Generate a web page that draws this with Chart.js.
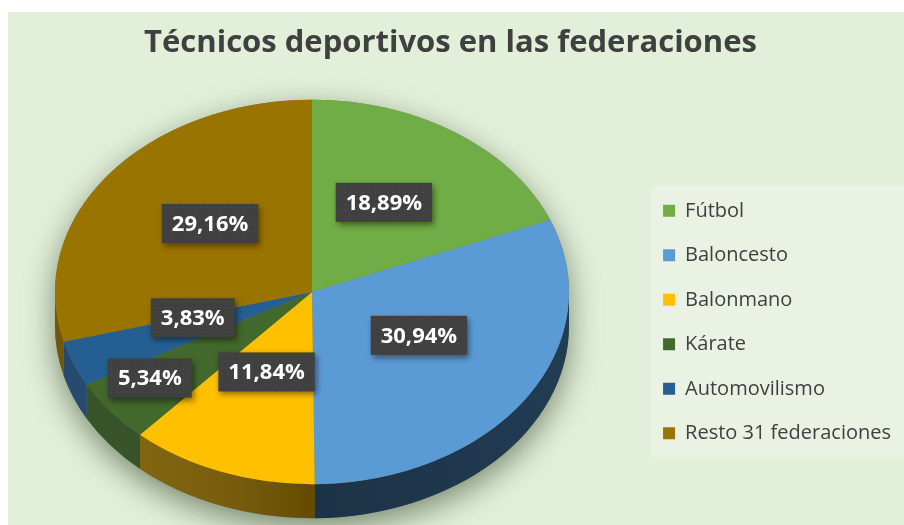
<!DOCTYPE html>
<html lang="es">
<head>
<meta charset="utf-8">
<title>Técnicos deportivos en las federaciones</title>
<script src="https://cdn.jsdelivr.net/npm/chart.js@4.4.1/dist/chart.umd.min.js"></script>
<style>
    html, body { margin: 0; padding: 0; background: #ffffff; }
    #wrap { position: absolute; left: 0; top: 0; width: 904px; height: 525px; }
</style>
</head>
<body>
<div id="wrap"><canvas id="pieChart" width="904" height="525"></canvas></div>
<script>
// Datos
const categories = ['Fútbol', 'Baloncesto', 'Balonmano', 'Kárate', 'Automovilismo', 'Resto 31 federaciones'];
const percentages = [18.89, 30.94, 11.84, 5.34, 3.83, 29.16];
const topColors = ['#70ad47', '#5b9bd5', '#ffc000', '#43682b', '#255e91', '#9a7400'];
const sideColors = ['#4b7630', '#233f58', '#7d5e00', '#2c4a1c', '#1b4169', '#6a5000'];

const formatPct = v => v.toFixed(2).replace('.', ',') + '%';

// Pie "3D": elipse, canto frontal y etiquetas en cajas oscuras
const pie3d = {
    id: 'pie3d',
    beforeDraw(chart, args, opts) {
        const ctx = chart.ctx;
        ctx.save();
        ctx.fillStyle = '#ffffff';
        ctx.fillRect(0, 0, chart.width, chart.height);
        ctx.fillStyle = opts.background;
        ctx.fillRect(8, 12, chart.width - 8, chart.height - 12);

        // fondo de la leyenda
        const boxes = chart.legend.legendHitBoxes;
        if (boxes && boxes.length) {
            const first = boxes[0];
            const last = boxes[boxes.length - 1];
            const top = first.top + first.height / 2 - 25;
            const bottom = last.top + last.height / 2 + 24;
            ctx.fillStyle = opts.legendBackground;
            ctx.fillRect(first.left - 12, top, chart.width - first.left + 12, bottom - top);
        }
        ctx.restore();
    },
    beforeDatasetsDraw(chart, args, opts) {
        const ctx = chart.ctx;
        const arcs = chart.getDatasetMeta(0).data;
        if (!arcs.length) return;
        const a0 = arcs[0];
        const rx = a0.outerRadius;
        const ry = rx * opts.tilt;
        const cx = opts.cx, cy = opts.cy, d = opts.depth;

        // sombra del cuerpo
        ctx.save();
        ctx.shadowColor = 'rgba(20, 40, 10, 0.5)';
        ctx.shadowBlur = 30;
        ctx.shadowOffsetY = 10;
        ctx.fillStyle = '#6f7a66';
        ctx.beginPath();
        ctx.ellipse(cx, cy, rx, ry, 0, Math.PI, 2 * Math.PI);
        ctx.ellipse(cx, cy + d, rx, ry, 0, 0, Math.PI);
        ctx.closePath();
        ctx.fill();
        ctx.restore();

        // canto frontal de cada porción
        ctx.save();
        arcs.forEach((arc, i) => {
            const s = Math.max(arc.startAngle, 0);
            const e = Math.min(arc.endAngle, Math.PI);
            if (e <= s) return;
            ctx.fillStyle = sideColors[i];
            ctx.beginPath();
            ctx.ellipse(cx, cy, rx, ry, 0, s, e);
            ctx.ellipse(cx, cy + d, rx, ry, 0, e, s, true);
            ctx.closePath();
            ctx.fill();
        });
        // sombreado suave del canto
        const g = ctx.createLinearGradient(cx - rx, 0, cx + rx, 0);
        g.addColorStop(0, 'rgba(255,255,255,0.04)');
        g.addColorStop(0.5, 'rgba(0,0,0,0.2)');
        g.addColorStop(1, 'rgba(0,0,0,0.05)');
        ctx.fillStyle = g;
        ctx.beginPath();
        ctx.ellipse(cx, cy, rx, ry, 0, 0, Math.PI);
        ctx.ellipse(cx, cy + d, rx, ry, 0, Math.PI, 0, true);
        ctx.closePath();
        ctx.fill();
        ctx.restore();

        // cara superior: la dibuja Chart.js, aplastada en vertical
        ctx.save();
        ctx.translate(cx, cy);
        ctx.scale(1, opts.tilt);
        ctx.translate(-a0.x, -a0.y);
    },
    afterDatasetsDraw(chart, args, opts) {
        const ctx = chart.ctx;
        ctx.restore();

        const arcs = chart.getDatasetMeta(0).data;
        if (!arcs.length) return;
        const rx = arcs[0].outerRadius;
        const ry = rx * opts.tilt;
        const values = chart.data.datasets[0].data;

        ctx.save();
        ctx.font = opts.labelFont;
        ctx.textAlign = 'center';
        ctx.textBaseline = 'middle';
        arcs.forEach((arc, i) => {
            const mid = (arc.startAngle + arc.endAngle) / 2;
            const f = opts.labelRadius[i];
            const x = opts.cx + rx * f * Math.cos(mid);
            const y = opts.cy + opts.labelShiftY + ry * f * Math.sin(mid);
            const text = formatPct(values[i]);
            const w = ctx.measureText(text).width + 2 * opts.labelPadX;
            const h = opts.labelHeight;

            ctx.save();
            ctx.shadowColor = 'rgba(0, 0, 0, 0.45)';
            ctx.shadowBlur = 6;
            ctx.shadowOffsetX = 2;
            ctx.shadowOffsetY = 3;
            ctx.fillStyle = '#404040';
            ctx.fillRect(x - w / 2, y - h / 2, w, h);
            ctx.restore();

            // trama de puntos de la caja
            ctx.fillStyle = 'rgba(255,255,255,0.10)';
            for (let px = x - w / 2 + 3; px < x + w / 2; px += 6) {
                for (let py = y - h / 2 + 3; py < y + h / 2; py += 6) {
                    ctx.fillRect(px, py, 1, 1);
                }
            }

            ctx.fillStyle = '#ffffff';
            ctx.fillText(text, x, y + 1);
        });
        ctx.restore();
    }
};

const ctx = document.getElementById('pieChart').getContext('2d');
new Chart(ctx, {
    type: 'pie',
    data: {
        labels: categories,
        datasets: [{
            data: percentages,
            backgroundColor: topColors,
            borderWidth: 0,
            radius: 257,
            clip: 1000
        }]
    },
    options: {
        responsive: false,
        animation: false,
        devicePixelRatio: 1,
        layout: { padding: { right: 3 } },
        plugins: {
            title: {
                display: true,
                text: 'Técnicos deportivos en las federaciones',
                color: '#404040',
                font: { family: 'Open Sans', size: 31, weight: 'bold' },
                padding: { top: 25, bottom: 57 }
            },
            legend: {
                position: 'right',
                align: 'center',
                fullSize: false,
                labels: {
                    color: '#404040',
                    font: { family: 'Open Sans', size: 20 },
                    boxWidth: 12,
                    boxHeight: 12,
                    padding: 24.5
                }
            },
            tooltip: { enabled: false },
            pie3d: {
                background: '#e2efd9',
                legendBackground: '#e9f2e3',
                cx: 312,
                cy: 292,
                tilt: 0.748,
                depth: 34,
                labelRadius: [0.5, 0.5, 0.5, 0.805, 0.5, 0.5],
                labelShiftY: -10,
                labelFont: 'bold 22px "Open Sans"',
                labelPadX: 10,
                labelHeight: 39
            }
        }
    },
    plugins: [pie3d]
});
</script>
</body>
</html>
